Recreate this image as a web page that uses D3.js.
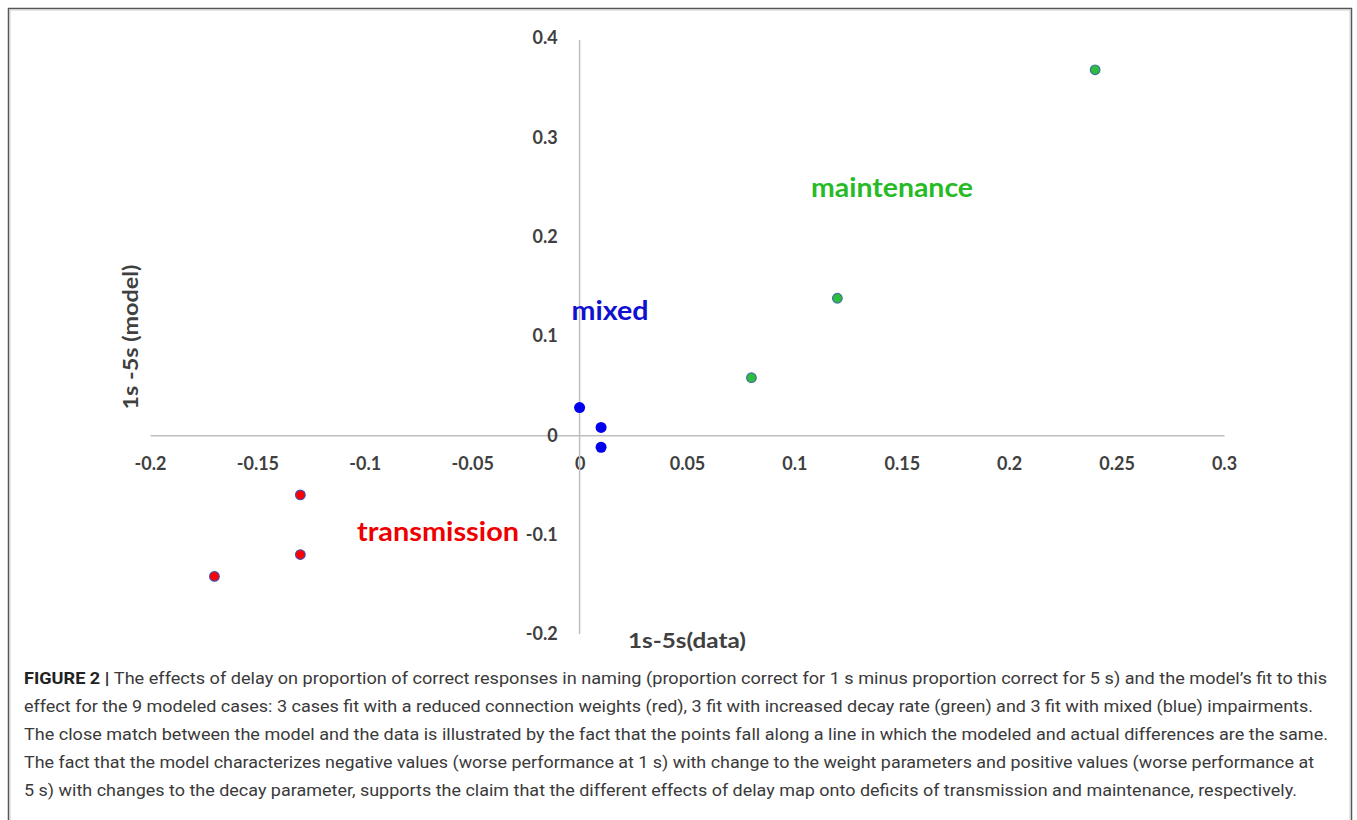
<!DOCTYPE html>
<html>
<head>
<meta charset="utf-8">
<script src="https://cdn.jsdelivr.net/npm/d3@7"></script>
<style>
  body { margin: 0; background: #fff; }
  svg { display: block; }
  .tick text { font-family: Lato, "Open Sans", sans-serif; font-weight: 700; font-size: 18px; fill: #404040; }
</style>
</head>
<body>
<script>
// data
var transX = [-0.17, -0.13, -0.13],
    transY = [-0.142, -0.06, -0.12];
var mixedX = [0, 0.01, 0.01],
    mixedY = [0.028, 0.008, -0.012];
var maintX = [0.08, 0.12, 0.24],
    maintY = [0.058, 0.138, 0.368];

var xTicks = [-0.2, -0.15, -0.1, -0.05, 0, 0.05, 0.1, 0.15, 0.2, 0.25, 0.3];
var yTicks = [-0.2, -0.1, 0, 0.1, 0.2, 0.3, 0.4];

var captionLines = [
  "The effects of delay on proportion of correct responses in naming (proportion correct for 1 s minus proportion correct for 5 s) and the model\u2019s fit to this",
  "effect for the 9 modeled cases: 3 cases fit with a reduced connection weights (red), 3 fit with increased decay rate (green) and 3 fit with mixed (blue) impairments.",
  "The close match between the model and the data is illustrated by the fact that the points fall along a line in which the modeled and actual differences are the same.",
  "The fact that the model characterizes negative values (worse performance at 1 s) with change to the weight parameters and positive values (worse performance at",
  "5 s) with changes to the decay parameter, supports the claim that the different effects of delay map onto deficits of transmission and maintenance, respectively."
];
var captionEnds = [1327, 1313, 1328, 1314, 1297];

var width = 1357, height = 820;

var svg = d3.select("body").append("svg")
    .attr("width", width)
    .attr("height", height);

//Frame
svg.append("rect")
    .attr("x", 8.5).attr("y", 8.5)
    .attr("width", 1343).attr("height", 820)
    .attr("fill", "none")
    .attr("stroke", "#555")
    .attr("stroke-width", 1.5);
svg.append("rect")
    .attr("x", 10).attr("y", 10)
    .attr("width", 1340).attr("height", 820)
    .attr("fill", "none")
    .attr("stroke", "#ccc")
    .attr("stroke-width", 1);

//Scales
var x = d3.scaleLinear().domain([-0.2, 0.3]).range([150, 1224]);
var y = d3.scaleLinear().domain([-0.2, 0.4]).range([634, 38]);

var fmt = function(d) { return d === 0 ? "0" : String(d); };

//Axes cross at 0
var xAxis = svg.append("g")
    .attr("transform", "translate(0," + y(0) + ")")
    .call(d3.axisBottom(x).tickValues(xTicks).tickFormat(fmt).tickSize(0).tickPadding(22));
var yAxis = svg.append("g")
    .attr("transform", "translate(" + x(0) + ",0)")
    .call(d3.axisLeft(y).tickValues(yTicks).tickFormat(fmt).tickSize(0).tickPadding(22));

svg.selectAll(".domain")
    .attr("stroke", "#bfbfbf")
    .attr("stroke-width", 1.5);
yAxis.select(".domain").attr("d", "M0," + (y(0.4) + 2) + "V" + y(-0.2));

//Axis titles
svg.append("text")
    .attr("transform", "translate(138,337) rotate(-90)")
    .attr("text-anchor", "middle")
    .attr("font-family", "Lato, sans-serif")
    .attr("font-weight", 700)
    .attr("font-size", 20)
    .attr("fill", "#404040")
    .attr("textLength", 145)
    .attr("lengthAdjust", "spacingAndGlyphs")
    .text("1s -5s (model)");

svg.append("text")
    .attr("x", 687).attr("y", 648)
    .attr("text-anchor", "middle")
    .attr("font-family", "Lato, sans-serif")
    .attr("font-weight", 700)
    .attr("font-size", 20)
    .attr("fill", "#404040")
    .attr("textLength", 118)
    .attr("lengthAdjust", "spacingAndGlyphs")
    .text("1s-5s(data)");

//Points
function drawSeries(xs, ys, fill, stroke, r) {
  svg.append("g").selectAll("circle")
    .data(xs.map(function(d, i) { return [d, ys[i]]; }))
    .enter().append("circle")
    .attr("cx", function(d) { return x(d[0]); })
    .attr("cy", function(d) { return y(d[1]); })
    .attr("r", r)
    .attr("fill", fill)
    .attr("stroke", stroke)
    .attr("stroke-width", 1.2);
}
drawSeries(transX, transY, "#ff0000", "#4a4aa8", 4.8);
drawSeries(mixedX, mixedY, "#0000ee", "none", 5.5);
drawSeries(maintX, maintY, "#2ebd3c", "#3c6fa0", 4.8);

//Group labels
function label(txt, cx, cy, w, color) {
  svg.append("text")
    .attr("x", cx).attr("y", cy)
    .attr("dy", "0.35em")
    .attr("text-anchor", "middle")
    .attr("font-family", "Lato, sans-serif")
    .attr("font-weight", 700)
    .attr("font-size", 26)
    .attr("fill", color)
    .attr("textLength", w)
    .attr("lengthAdjust", "spacingAndGlyphs")
    .text(txt);
}
label("maintenance", 892, 188, 162, "#26bb26");
label("mixed", 610, 311, 77, "#1010d0");
label("transmission", 438, 532, 162, "#ee0000");

//Caption
var cap = svg.append("g")
    .attr("font-family", "Roboto, sans-serif")
    .attr("font-size", 17)
    .attr("fill", "#3a3a3a");

captionLines.forEach(function(line, i) {
  var t = cap.append("text")
      .attr("x", 24)
      .attr("y", 684 + i * 28)
      .attr("textLength", captionEnds[i] - 24)
      .attr("lengthAdjust", "spacingAndGlyphs");
  if (i === 0) {
    t.append("tspan").attr("font-weight", 700).attr("fill", "#222").text("FIGURE 2 | ");
  }
  t.append("tspan").text(line);
});
</script>
</body>
</html>
